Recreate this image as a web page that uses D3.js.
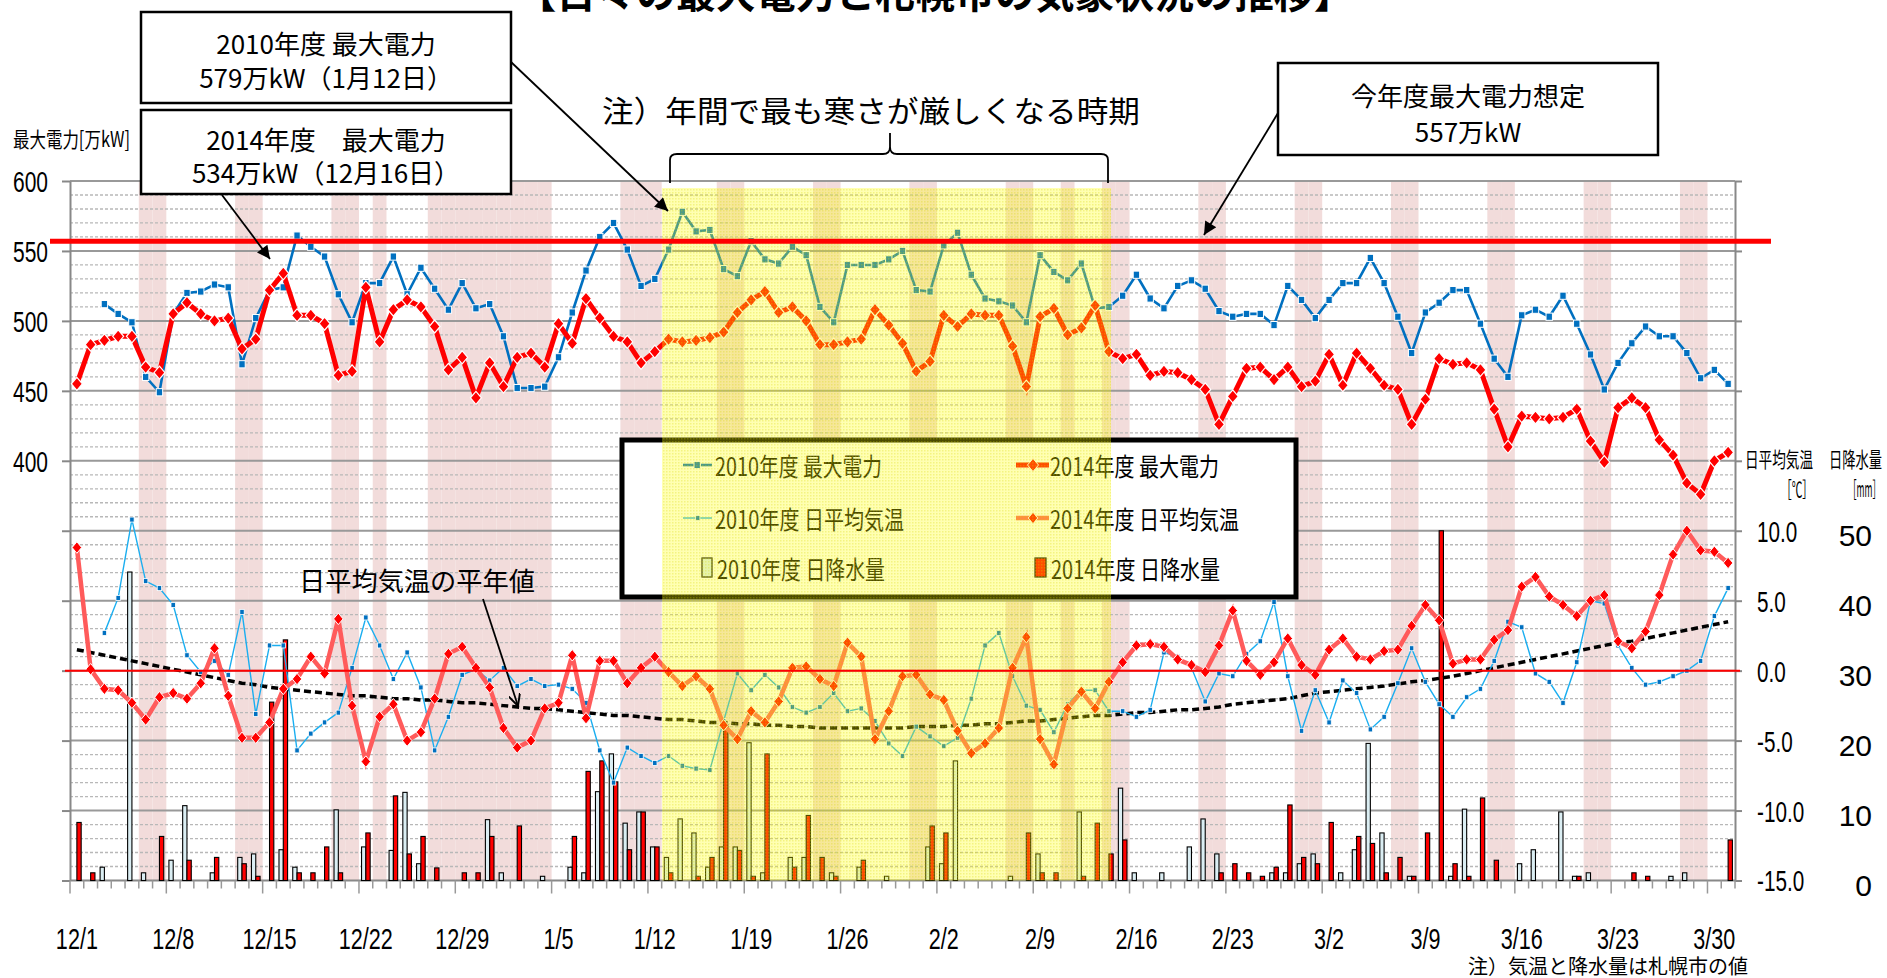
<!DOCTYPE html>
<html lang="ja">
<head>
<meta charset="UTF-8">
<title>日々の最大電力と札幌市の気象状況の推移</title>
<style>
  body { margin: 0; background: #fff; }
</style>
</head>
<body>
<svg id="chart"></svg>
<script src="https://cdn.jsdelivr.net/npm/d3@7"></script>
<script>
// ---------- data ----------
const startDate = new Date(2014, 11, 1);
const dayCount = 121;
const categories = d3.timeDay.range(startDate, d3.timeDay.offset(startDate, dayCount)).map(d3.timeFormat("%-m/%-d"));
const tickLabels = ["12/1","12/8","12/15","12/22","12/29","1/5","1/12","1/19","1/26","2/2","2/9","2/16","2/23","3/2","3/9","3/16","3/23","3/30"];
// weekends / holidays (pink columns)
const holidays = ["12/6","12/7","12/13","12/14","12/20","12/21","12/23","12/27","12/28","12/29","12/30","12/31","1/1","1/2","1/3","1/4",
  "1/10","1/11","1/12","1/17","1/18","1/24","1/25","1/31","2/1","2/7","2/8","2/11","2/14","2/15","2/21","2/22","2/28","3/1",
  "3/7","3/8","3/14","3/15","3/21","3/22","3/28","3/29"];

// max power [万kW]
const power2010 = [
  null,null,512,505,499,460,449,  505,520,521,526,524,469,502,  522,524,561,553,546,519,499,
  527,527,546,519,538,523,508,  527,509,512,489,452,452,453,  474,506,536,560,570,551,525,
  530,551,578,564,565,537,532,  557,544,541,553,547,510,499,  540,540,540,544,550,522,521,
  554,563,533,516,514,511,499,  547,535,529,541,509,510,518,  533,516,509,525,529,523,507,
  503,505,505,497,525,515,502,  515,527,527,545,527,503,477,  506,513,522,522,498,473,460,
  504,508,503,518,498,476,451,  470,484,496,489,489,477,459,  465,455];
const power2014 = [
  455,483,486,489,489,467,463,  505,513,505,500,502,480,487,  522,534,504,504,498,461,464,
  524,485,508,515,510,496,465,  474,445,470,453,474,477,467,  498,484,516,502,489,485,470,
  478,487,485,486,488,492,506,  515,521,506,510,500,483,483,  485,487,508,497,484,464,471,
  504,496,505,504,504,482,453,  503,509,490,495,511,478,473,  476,461,464,463,458,451,426,
  446,466,467,458,467,453,457,  476,454,477,466,454,451,426,  444,473,469,470,465,437,410,
  432,431,430,431,437,414,399,  438,445,438,415,404,384,376,  400,406];

// daily mean temperature [℃]
const temp2010 = [
  null,null,2.7,5.2,10.8,6.4,5.9,  4.7,1.1,-0.1,0.7,-0.3,4.2,-3.1,  1.8,1.8,-5.7,-4.5,-3.7,-3.0,0.2,
  3.8,1.8,-0.6,1.3,-1.2,-5.7,-3.3,  -0.3,0.1,-0.7,0.2,-1.1,-0.6,-1.1,  -1.0,-1.3,-2.3,-5.7,-8.0,-5.5,-6.1,
  -6.6,-6.1,-6.8,-7.0,-7.1,-3.6,-0.2,  -1.4,-0.3,-1.2,-2.6,-3.0,-2.6,-1.6,  -2.9,-2.7,-3.6,-5.2,-6.1,-4.0,-4.7,
  -5.4,-4.8,-2.0,1.8,2.7,-0.4,-2.5,  -2.8,-4.4,-2.4,-1.4,-1.4,-2.9,-2.9,  -3.3,-2.8,1.3,1.0,0.2,-2.2,-0.2,
  -0.4,1.2,2.1,4.9,-0.4,-4.3,-1.4,  -3.7,-0.7,-1.6,-4.2,-3.3,-0.9,1.6,  -0.8,-2.4,-3.3,-1.9,-1.3,0.7,3.5,
  3.1,-0.2,-0.8,-2.3,0.6,5.0,4.8,  1.8,0.2,-1.0,-0.8,-0.4,0.0,0.7,  3.9,5.9];
const temp2014 = [
  8.8,0.1,-1.3,-1.4,-2.3,-3.5,-1.9,  -1.6,-2.0,-0.9,1.6,-1.8,-4.8,-4.8,  -3.7,-1.3,-0.6,1.0,-0.2,3.7,-2.5,
  -6.5,-3.3,-2.4,-5.0,-4.4,-2.0,1.2,  1.7,0.2,-1.2,-4.1,-5.5,-5.0,-2.7,  -2.3,1.1,-3.4,0.7,0.7,-0.9,0.2,
  1.0,-0.1,-1.1,-0.4,-1.3,-3.9,-4.9,  -2.9,-3.7,-2.2,0.2,0.3,-0.6,-1.1,  2.0,1.0,-4.9,-2.9,-0.4,-0.3,-1.7,
  -2.1,-4.3,-5.9,-5.2,-4.1,0.2,2.4,  -4.9,-6.7,-2.7,-1.5,-2.7,-0.8,0.6,  1.8,1.9,1.7,0.8,0.4,-0.1,1.8,
  4.3,0.7,-0.3,0.6,2.3,0.4,-0.3,  1.5,2.3,1.0,0.8,1.4,1.5,3.2,  4.7,3.6,0.5,0.8,0.8,2.2,2.9,
  6.0,6.7,5.3,4.7,3.9,5.0,5.4,  2.1,1.6,2.8,5.4,8.3,10.0,8.6,  8.5,7.7];
// normal daily mean temperature (平年値)
const tempNormal = [
  1.5,1.3,1.1,0.9,0.7,0.5,0.3,  0.1,-0.1,-0.3,-0.5,-0.7,-0.9,-1.0,  -1.2,-1.3,-1.4,-1.5,-1.6,-1.7,-1.8,
  -1.8,-1.9,-2.0,-2.0,-2.1,-2.1,-2.2,  -2.3,-2.3,-2.4,-2.5,-2.6,-2.7,-2.7,  -2.8,-2.9,-3.0,-3.1,-3.2,-3.2,-3.3,
  -3.4,-3.5,-3.5,-3.6,-3.7,-3.7,-3.8,  -3.8,-3.9,-3.9,-4.0,-4.0,-4.1,-4.1,  -4.1,-4.1,-4.1,-4.1,-4.1,-4.0,-4.0,
  -4.0,-3.9,-3.9,-3.8,-3.8,-3.7,-3.6,  -3.6,-3.5,-3.4,-3.3,-3.2,-3.2,-3.1,  -3.0,-3.0,-2.9,-2.8,-2.8,-2.7,-2.6,
  -2.4,-2.3,-2.2,-2.1,-2.0,-1.8,-1.6,  -1.5,-1.4,-1.3,-1.2,-1.1,-0.95,-0.8,  -0.7,-0.55,-0.4,-0.2,0.0,0.2,0.4,
  0.6,0.8,1.0,1.2,1.4,1.6,1.8,  2.0,2.1,2.3,2.5,2.7,2.9,3.1,  3.3,3.5];

// daily precipitation [mm]
const rain2010 = [
  0,0,1.9,0,44.1,1.1,0,  2.9,10.7,0,1.1,0,3.3,3.8,  0,4.4,1.9,0,0,10.1,0,
  4.8,0,4.3,12.6,2.4,0,0,  0,0,8.7,1.1,0,0,0.6,  0,1.9,1.1,12.7,18.1,8.2,9.8,
  4.8,3.3,8.8,6.8,1.9,4.8,4.8,  19.7,1.1,0,3.3,3.3,0,1.1,  0,1.9,0,0.6,0,0,4.8,
  2.4,17.1,0,0,0,0.6,0,  3.8,0,0,9.8,0,0,13.2,  1.1,0,1.1,0,4.8,8.8,3.8,
  0,0,0,1.1,1.1,2.4,3.8,  0,1.1,4.4,19.6,6.8,0,0.6,  0,0,0.6,10.2,0,0,0,
  2.4,4.4,0,9.8,0.6,1.1,0,  0,0,0,0,0.6,1.1,0,  0,0];
const rain2014 = [
  8.3,1.1,0,0,0,0,6.3,  0,2.9,0,3.3,0,2.4,0.6,  25.5,34.4,1.1,1.1,4.8,1.1,0,
  6.8,0,12.1,3.8,6.3,1.8,0,  1.1,1.1,6.3,0,7.8,0,0,  0,6.3,15.6,17.1,14.1,4.4,9.8,
  4.8,1.1,0,0.6,3.3,22.3,4.3,  0.6,18.1,0,1.9,9.3,3.3,0.6,  0,2.9,0,0,0,0,7.8,
  6.8,0,0,0,0,0,6.8,  1.1,1.1,0,0.6,8.2,3.8,5.8,  0,0,0,0,0,0,1.1,
  2.4,1.1,0.6,1.9,10.8,3.3,2.4,  8.3,0,6.3,5.3,1.1,3.3,0.6,  6.8,50.0,2.4,0.6,11.8,2.9,0,
  0,0,0,0,0.6,0,0,  0,1.1,0.6,0,0,0,0,  0,5.8];

const powerTarget = 557;
const powerTicks = [400, 450, 500, 550, 600];
const tempTicks = [-15, -10, -5, 0, 5, 10];
const rainTicks = [0, 10, 20, 30, 40, 50];

// ---------- setup ----------
const W = 1887, H = 978;
const CJK = '"Noto Sans CJK JP", "Noto Sans CJK SC", sans-serif';
const NUM = '"Liberation Sans", Arial, sans-serif';
const plot = { left: 70, right: 1735, top: 181, bottom: 880.5 };

const svg = d3.select("#chart").attr("width", W).attr("height", H);

const x = d3.scaleBand().domain(d3.range(categories.length)).range([plot.left, plot.right]);
const cx = i => x(i) + x.bandwidth() / 2;
const yPow = d3.scaleLinear().domain([100, 600]).range([plot.bottom, plot.top]);
const yTemp = d3.scaleLinear().domain([-15, 35]).range([plot.bottom, plot.top]);
const yRain = d3.scaleLinear().domain([0, 100]).range([plot.bottom, plot.top]);

function txt(g, s, tx, ty, o = {}) {
  const t = g.append("text")
    .attr("transform", `translate(${tx},${ty}) scale(${o.sx || 1},1)`)
    .attr("text-anchor", o.anchor || "middle")
    .attr("dominant-baseline", o.baseline || "central")
    .style("font-family", o.family || CJK)
    .style("font-size", (o.size || 20) + "px")
    .style("font-weight", o.weight || "normal")
    .attr("fill", o.fill || "#000")
    .text(s);
  if (o.len) t.attr("textLength", o.len).attr("lengthAdjust", "spacingAndGlyphs");
  return t;
}
const diamond = (w, h) => `M0,${-h / 2}L${w / 2},0L0,${h / 2}L${-w / 2},0Z`;

const defs = svg.append("defs");
const pat = defs.append("pattern").attr("id", "ydots").attr("width", 3).attr("height", 3)
  .attr("patternUnits", "userSpaceOnUse");
pat.append("rect").attr("width", 3).attr("height", 3).attr("fill", "#ffff00").attr("fill-opacity", 0.3);
pat.append("rect").attr("width", 1.5).attr("height", 1.5).attr("fill", "#d8d800").attr("fill-opacity", 0.28);
defs.append("marker").attr("id", "arrowFill").attr("viewBox", "0 0 10 10").attr("refX", 10).attr("refY", 5)
  .attr("markerWidth", 16).attr("markerHeight", 13).attr("markerUnits", "userSpaceOnUse").attr("orient", "auto")
  .append("path").attr("d", "M0,0L10,5L0,10Z").attr("fill", "#000");
defs.append("marker").attr("id", "arrowOpen").attr("viewBox", "0 0 10 10").attr("refX", 10).attr("refY", 5)
  .attr("markerWidth", 12).attr("markerHeight", 12).attr("markerUnits", "userSpaceOnUse").attr("orient", "auto")
  .append("path").attr("d", "M0,0L10,5L0,10").attr("fill", "none").attr("stroke", "#000").attr("stroke-width", 1.6);

// ---------- pink columns ----------
svg.append("g").selectAll("rect")
  .data(categories.map((c, i) => ({ c, i })).filter(d => holidays.includes(d.c)))
  .join("rect")
  .attr("x", d => x(d.i)).attr("width", x.bandwidth())
  .attr("y", plot.top).attr("height", plot.bottom - plot.top)
  .attr("fill", "#f2dcdb");

// ---------- grid ----------
const grid = svg.append("g");
grid.selectAll(".minor").data(d3.range(110, 600, 10).filter(v => v % 50 !== 0)).join("line")
  .attr("x1", plot.left).attr("x2", plot.right).attr("y1", d => yPow(d)).attr("y2", d => yPow(d))
  .attr("stroke", "#b8b8b8").attr("stroke-width", 1.3).attr("stroke-dasharray", "3,2");
grid.selectAll(".major").data(d3.range(150, 601, 50)).join("line")
  .attr("x1", plot.left).attr("x2", plot.right).attr("y1", d => yPow(d)).attr("y2", d => yPow(d))
  .attr("stroke", "#999").attr("stroke-width", 2);

// ---------- axes ----------
const axL = svg.append("g").attr("transform", `translate(${plot.left},0)`)
  .call(d3.axisLeft(yPow).tickValues(d3.range(100, 601, 50)).tickSize(8).tickSizeOuter(0).tickFormat(""));
const axR = svg.append("g").attr("transform", `translate(${plot.right},0)`)
  .call(d3.axisRight(yTemp).tickValues(d3.range(-15, 36, 5)).tickSize(7).tickSizeOuter(0).tickFormat(""));
[axL, axR].forEach(a => {
  a.select(".domain").attr("stroke", "#888").attr("stroke-width", 2);
  a.selectAll(".tick line").attr("stroke", "#888").attr("stroke-width", 2);
});
const axB = svg.append("g");
axB.append("line").attr("x1", plot.left).attr("x2", plot.right).attr("y1", plot.bottom).attr("y2", plot.bottom)
  .attr("stroke", "#888").attr("stroke-width", 2);
axB.selectAll(".tk").data(d3.range(categories.length + 1)).join("line")
  .attr("x1", i => plot.left + i * x.bandwidth()).attr("x2", i => plot.left + i * x.bandwidth())
  .attr("y1", plot.bottom).attr("y2", i => plot.bottom + (i % 7 === 0 ? 13 : 8))
  .attr("stroke", "#999").attr("stroke-width", 1.5);

// ---------- precipitation bars ----------
const bw = 4.3;
const bars = svg.append("g");
bars.selectAll(".r10").data(rain2010.map((v, i) => ({ v, i })).filter(d => d.v > 0)).join("rect")
  .attr("x", d => cx(d.i) - bw).attr("width", bw)
  .attr("y", d => yRain(d.v)).attr("height", d => plot.bottom - yRain(d.v))
  .attr("fill", "#dbeef3").attr("stroke", "#000").attr("stroke-width", 1.1);
bars.selectAll(".r14").data(rain2014.map((v, i) => ({ v, i })).filter(d => d.v > 0)).join("rect")
  .attr("x", d => cx(d.i)).attr("width", bw)
  .attr("y", d => yRain(d.v)).attr("height", d => plot.bottom - yRain(d.v))
  .attr("fill", "#ff0000").attr("stroke", "#000").attr("stroke-width", 1.1);

// ---------- temperature lines ----------
const lineOf = y => d3.line().defined(d => d != null).x((d, i) => cx(i)).y(d => y(d));
svg.append("path").datum(tempNormal).attr("d", lineOf(yTemp))
  .attr("fill", "none").attr("stroke", "#000").attr("stroke-width", 3.5).attr("stroke-dasharray", "7,4");

svg.append("path").datum(temp2010).attr("d", lineOf(yTemp))
  .attr("fill", "none").attr("stroke", "#1aaef0").attr("stroke-width", 1.4);
svg.append("g").selectAll("rect").data(temp2010.map((v, i) => ({ v, i })).filter(d => d.v != null)).join("rect")
  .attr("x", d => cx(d.i) - 2.2).attr("y", d => yTemp(d.v) - 2.5).attr("width", 4.4).attr("height", 5)
  .attr("fill", "#0070c0").attr("stroke", "#fff").attr("stroke-width", 0.8);

svg.append("path").datum(temp2014).attr("d", lineOf(yTemp))
  .attr("fill", "none").attr("stroke", "#ff5b5b").attr("stroke-width", 4.5);
svg.append("g").selectAll("path").data(temp2014).join("path")
  .attr("transform", (d, i) => `translate(${cx(i)},${yTemp(d)})`).attr("d", diamond(9.5, 11.5))
  .attr("fill", "#ff0000").attr("stroke", "#fff").attr("stroke-width", 1);

// ---------- power lines ----------
svg.append("path").datum(power2010).attr("d", lineOf(yPow))
  .attr("fill", "none").attr("stroke", "#0070c0").attr("stroke-width", 2.6);
svg.append("g").selectAll("rect").data(power2010.map((v, i) => ({ v, i })).filter(d => d.v != null)).join("rect")
  .attr("x", d => cx(d.i) - 3.2).attr("y", d => yPow(d.v) - 3.6).attr("width", 6.4).attr("height", 7.2)
  .attr("fill", "#0070c0").attr("stroke", "#fff").attr("stroke-width", 1);

svg.append("path").datum(power2014).attr("d", lineOf(yPow))
  .attr("fill", "none").attr("stroke", "#ff0000").attr("stroke-width", 5);
svg.append("g").selectAll("path").data(power2014).join("path")
  .attr("transform", (d, i) => `translate(${cx(i)},${yPow(d)})`).attr("d", diamond(11, 13))
  .attr("fill", "#ff0000").attr("stroke", "#fff").attr("stroke-width", 1.2);

// ---------- legend ----------
const lg = svg.append("g");
lg.append("rect").attr("x", 622).attr("y", 440).attr("width", 674).attr("height", 157)
  .attr("fill", "#fff").attr("stroke", "#000").attr("stroke-width", 5);
const rows = [465, 518, 568];
lg.append("line").attr("x1", 683).attr("x2", 712).attr("y1", rows[0]).attr("y2", rows[0]).attr("stroke", "#0070c0").attr("stroke-width", 2.6);
lg.append("rect").attr("x", 694).attr("y", rows[0] - 3.6).attr("width", 6.4).attr("height", 7.2).attr("fill", "#0070c0").attr("stroke", "#fff");
lg.append("line").attr("x1", 1016).attr("x2", 1049).attr("y1", rows[0]).attr("y2", rows[0]).attr("stroke", "#ff0000").attr("stroke-width", 5);
lg.append("path").attr("transform", `translate(1033,${rows[0]})`).attr("d", diamond(11, 13)).attr("fill", "#ff0000").attr("stroke", "#fff");
lg.append("line").attr("x1", 683).attr("x2", 712).attr("y1", rows[1]).attr("y2", rows[1]).attr("stroke", "#1aaef0").attr("stroke-width", 1.4);
lg.append("rect").attr("x", 695.5).attr("y", rows[1] - 2.5).attr("width", 4.4).attr("height", 5).attr("fill", "#0070c0").attr("stroke", "#fff").attr("stroke-width", 0.8);
lg.append("line").attr("x1", 1016).attr("x2", 1049).attr("y1", rows[1]).attr("y2", rows[1]).attr("stroke", "#ff5b5b").attr("stroke-width", 4.5);
lg.append("path").attr("transform", `translate(1033,${rows[1]})`).attr("d", diamond(9.5, 11.5)).attr("fill", "#ff0000").attr("stroke", "#fff");
lg.append("rect").attr("x", 702).attr("y", 558).attr("width", 10).attr("height", 19).attr("fill", "#dbeef3").attr("stroke", "#000").attr("stroke-width", 1.2);
lg.append("rect").attr("x", 1035).attr("y", 558).attr("width", 11).attr("height", 19).attr("fill", "#ff0000").attr("stroke", "#000").attr("stroke-width", 1.2);
txt(lg, "2010年度 最大電力", 715, rows[0], { size: 25, anchor: "start", len: 167 });
txt(lg, "2014年度 最大電力", 1050, rows[0], { size: 25, anchor: "start", len: 169 });
txt(lg, "2010年度 日平均気温", 715, rows[1], { size: 25, anchor: "start", len: 189 });
txt(lg, "2014年度 日平均気温", 1050, rows[1], { size: 25, anchor: "start", len: 189 });
txt(lg, "2010年度 日降水量", 717, rows[2], { size: 25, anchor: "start", len: 168 });
txt(lg, "2014年度 日降水量", 1051, rows[2], { size: 25, anchor: "start", len: 169 });

// normal temperature label + arrow
txt(svg, "日平均気温の平年値", 417, 579, { size: 26, len: 236 });
svg.append("line").attr("x1", 483).attr("y1", 599).attr("x2", 518).attr("y2", 706)
  .attr("stroke", "#000").attr("stroke-width", 1.8).attr("marker-end", "url(#arrowOpen)");

// ---------- coldest period overlay ----------
svg.append("rect").attr("x", 662).attr("y", 188).attr("width", 1111 - 662).attr("height", plot.bottom - 188)
  .attr("fill", "url(#ydots)");

// reference lines on top
svg.append("line").attr("x1", plot.left - 5).attr("x2", plot.right + 5).attr("y1", yTemp(0)).attr("y2", yTemp(0))
  .attr("stroke", "#ff0000").attr("stroke-width", 2);
svg.append("line").attr("x1", 50).attr("x2", 1771).attr("y1", yPow(powerTarget)).attr("y2", yPow(powerTarget))
  .attr("stroke", "#ff0000").attr("stroke-width", 5);

// ---------- axis labels ----------
powerTicks.forEach(v => txt(svg, String(v), 48, yPow(v) + 0.5, { family: NUM, size: 30, sx: 0.7, anchor: "end" }));
tempTicks.forEach(v => txt(svg, v.toFixed(1), 1757, yTemp(v) + 0.5, { family: NUM, size: 30, sx: 0.69, anchor: "start" }));
rainTicks.forEach(v => txt(svg, String(v), 1872, yRain(v) + 5, { family: NUM, size: 30, anchor: "end" }));
tickLabels.forEach(l => {
  const i = categories.indexOf(l);
  txt(svg, l, cx(i), 939, { family: NUM, size: 30, sx: 0.72 });
});
txt(svg, "最大電力[万kW]", 13, 138, { size: 21, anchor: "start", len: 117 });
txt(svg, "日平均気温", 1745, 458, { size: 21, anchor: "start", len: 68 });
txt(svg, "［℃］", 1781, 488, { size: 21, anchor: "start", len: 32 });
txt(svg, "日降水量", 1829, 458, { size: 21, anchor: "start", len: 53 });
txt(svg, "［mm］", 1848, 488, { size: 21, anchor: "start", len: 33 });
txt(svg, "注）気温と降水量は札幌市の値", 1468, 965, { size: 20, anchor: "start", len: 280 });

// ---------- annotations ----------
const ann = svg.append("g");
ann.append("line").attr("x1", 511).attr("y1", 62).attr("x2", 668).attr("y2", 211)
  .attr("stroke", "#000").attr("stroke-width", 1.8).attr("marker-end", "url(#arrowFill)");
ann.append("line").attr("x1", 222).attr("y1", 195).attr("x2", 270).attr("y2", 259)
  .attr("stroke", "#000").attr("stroke-width", 1.8).attr("marker-end", "url(#arrowFill)");
ann.append("line").attr("x1", 1278).attr("y1", 113).attr("x2", 1204).attr("y2", 235)
  .attr("stroke", "#000").attr("stroke-width", 1.8).attr("marker-end", "url(#arrowFill)");

const boxes = [
  { x: 141, y: 12, w: 370, h: 91, lines: ["2010年度 最大電力", "579万kW（1月12日）"], ly: [42, 76] },
  { x: 141, y: 110, w: 370, h: 84, lines: ["2014年度　最大電力", "534万kW（12月16日）"], ly: [138, 171] },
  { x: 1278, y: 63, w: 380, h: 92, lines: ["今年度最大電力想定", "557万kW"], ly: [94, 130] }
];
boxes.forEach(b => {
  ann.append("rect").attr("x", b.x).attr("y", b.y).attr("width", b.w).attr("height", b.h)
    .attr("fill", "#fff").attr("stroke", "#000").attr("stroke-width", 2.5);
  b.lines.forEach((s, k) => txt(ann, s, b.x + b.w / 2, b.ly[k], { size: 26 }));
});

txt(ann, "注）年間で最も寒さが厳しくなる時期", 871, 109, { size: 30, len: 538 });
ann.append("path")
  .attr("d", "M670,183 L670,160 Q670,154 677,154 L883,154 Q890,154 890,147 L890,133 M890,147 Q890,154 897,154 L1101,154 Q1108,154 1108,160 L1108,183")
  .attr("fill", "none").attr("stroke", "#000").attr("stroke-width", 1.8);

// title (cut by the top edge as in the original)
txt(svg, "【日々の最大電力と札幌市の気象状況の推移】", 935, 8, { size: 40, weight: "bold", baseline: "alphabetic", len: 837 });
</script>
</body>
</html>
